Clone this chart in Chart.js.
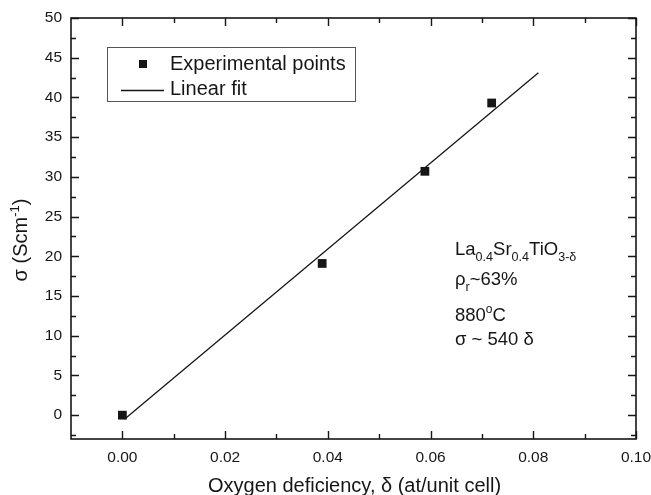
<!DOCTYPE html>
<html>
<head>
<meta charset="utf-8">
<script src="https://cdn.jsdelivr.net/npm/chart.js@4.4.1/dist/chart.umd.min.js"></script>
<style>
  html, body { margin: 0; padding: 0; background: #fff; }
  #wrap { width: 651px; height: 495px; }
</style>
</head>
<body>
<div id="wrap"><canvas id="chart" width="651" height="495"></canvas></div>
<script>
// measured points (delta, sigma)
const deltaPts = [0.000, 0.0389, 0.0589, 0.0719];
const sigmaPts = [0.0, 19.1, 30.7, 39.3];
// linear fit end points
const fitDelta = [0.0004, 0.0810];
const fitSigma = [-0.5, 43.1];

const xTicks = [0.00, 0.02, 0.04, 0.06, 0.08, 0.10];
const xMinor = [0.01, 0.03, 0.05, 0.07, 0.09];
const yTicks = [0, 5, 10, 15, 20, 25, 30, 35, 40, 45, 50];
const yMinor = [-2.5, 2.5, 7.5, 12.5, 17.5, 22.5, 27.5, 32.5, 37.5, 42.5, 47.5];

const FONT = '"Liberation Sans", Arial, sans-serif';
const INK = '#161616';

// draws text made of pieces, some sub/superscript
const richText = (ctx, x, y, parts, size) => {
    parts.forEach(p => {
        let s = size, dy = 0;
        if (p.sub) { s = size * 0.68; dy = size * 0.3; }
        if (p.sup) { s = size * 0.65; dy = -size * 0.42; }
        ctx.font = `${s}px ${FONT}`;
        ctx.fillText(p.t, x, y + dy);
        x += ctx.measureText(p.t).width;
    });
    return x;
};

const framePlugin = {
    id: 'frame',
    afterDraw(chart) {
        const ctx = chart.ctx;
        const a = chart.chartArea;
        const xs = chart.scales.x, ys = chart.scales.y;
        ctx.save();
        ctx.strokeStyle = INK;
        ctx.fillStyle = INK;

        // box
        ctx.lineWidth = 1.6;
        ctx.strokeRect(a.left, a.top, a.right - a.left, a.bottom - a.top);

        // ticks, pointing inward, mirrored on top and right
        ctx.lineWidth = 1.4;
        ctx.beginPath();
        const xt = (v, len) => {
            const px = Math.round(xs.getPixelForValue(v)) + 0.5;
            ctx.moveTo(px, a.bottom); ctx.lineTo(px, a.bottom - len);
            ctx.moveTo(px, a.top); ctx.lineTo(px, a.top + len);
        };
        const yt = (v, len) => {
            const py = Math.round(ys.getPixelForValue(v)) + 0.5;
            ctx.moveTo(a.left, py); ctx.lineTo(a.left + len, py);
            ctx.moveTo(a.right, py); ctx.lineTo(a.right - len, py);
        };
        xTicks.forEach(v => xt(v, 8));
        xMinor.forEach(v => xt(v, 5));
        yTicks.forEach(v => yt(v, 8));
        yMinor.forEach(v => yt(v, 5));
        ctx.stroke();

        // axis titles
        ctx.textBaseline = 'alphabetic';
        ctx.textAlign = 'center';
        ctx.font = `20px ${FONT}`;
        ctx.fillText('Oxygen deficiency, \u03b4 (at/unit cell)', (a.left + a.right) / 2 + 1, 492);

        ctx.save();
        ctx.translate(27, 240);
        ctx.rotate(-Math.PI / 2);
        ctx.textAlign = 'left';
        const yParts = [{ t: '\u03c3 (Scm' }, { t: '-1', sup: true }, { t: ')' }];
        let w = 0;
        yParts.forEach(p => {
            ctx.font = `${p.sup ? 20 * 0.65 : 20}px ${FONT}`;
            w += ctx.measureText(p.t).width;
        });
        richText(ctx, -w / 2, 0, yParts, 20);
        ctx.restore();

        // legend box, built from the datasets
        ctx.textAlign = 'left';
        ctx.lineWidth = 1;
        ctx.strokeStyle = '#555';
        ctx.strokeRect(107.5, 47.5, 248, 54);
        const rows = [64, 90];
        chart.data.datasets.forEach((ds, i) => {
            const ry = rows[i];
            ctx.fillStyle = INK;
            ctx.strokeStyle = INK;
            if (ds.showLine) {
                ctx.lineWidth = 1.4;
                ctx.beginPath();
                ctx.moveTo(121, ry + 0.5);
                ctx.lineTo(164, ry + 0.5);
                ctx.stroke();
            } else {
                ctx.fillRect(139, ry - 4, 8, 8);
            }
            ctx.font = `20px ${FONT}`;
            ctx.fillText(ds.label, 170, ry + (i === 0 ? 6 : 5));
        });

        // annotation
        ctx.fillStyle = INK;
        const ax = 455;
        richText(ctx, ax, 255, [{ t: 'La' }, { t: '0.4', sub: true }, { t: 'Sr' }, { t: '0.4', sub: true }, { t: 'TiO' }, { t: '3-\u03b4', sub: true }], 18.5);
        richText(ctx, ax, 285, [{ t: '\u03c1' }, { t: 'r', sub: true }, { t: '~63%' }], 18.5);
        richText(ctx, ax, 321, [{ t: '880' }, { t: 'o', sup: true }, { t: 'C' }], 18.5);
        richText(ctx, ax, 345, [{ t: '\u03c3 ~ 540 \u03b4' }], 18.5);

        ctx.restore();
    }
};

const ctx = document.getElementById('chart').getContext('2d');
new Chart(ctx, {
    type: 'scatter',
    data: {
        datasets: [
            {
                label: 'Experimental points',
                data: deltaPts.map((d, i) => ({ x: d, y: sigmaPts[i] })),
                pointStyle: 'rect',
                pointRadius: 6.2,
                backgroundColor: INK,
                borderColor: INK,
                borderWidth: 0,
                showLine: false,
                order: 0
            },
            {
                label: 'Linear fit',
                data: fitDelta.map((d, i) => ({ x: d, y: fitSigma[i] })),
                showLine: true,
                pointRadius: 0,
                borderColor: INK,
                borderWidth: 1.3,
                order: 1
            }
        ]
    },
    options: {
        responsive: false,
        animation: false,
        layout: { padding: { top: 18, right: 15, left: 0, bottom: 0 } },
        plugins: { legend: { display: false }, tooltip: { enabled: false } },
        scales: {
            x: {
                type: 'linear', min: -0.01, max: 0.10,
                grid: { display: false, drawTicks: false }, border: { display: false },
                afterBuildTicks: s => { s.ticks = xTicks.map(v => ({ value: v })); },
                afterFit: s => { s.height = 56; s.paddingLeft = 0; s.paddingRight = 0; },
                ticks: {
                    padding: 9, autoSkip: false, maxRotation: 0, color: INK,
                    font: { family: FONT, size: 15.5 },
                    callback: v => Number(v).toFixed(2)
                }
            },
            y: {
                type: 'linear', min: -3, max: 50,
                grid: { display: false, drawTicks: false }, border: { display: false },
                afterBuildTicks: s => { s.ticks = yTicks.map(v => ({ value: v })); },
                afterFit: s => { s.width = 71; s.paddingTop = 0; s.paddingBottom = 0; },
                ticks: {
                    padding: 9, autoSkip: false, color: INK,
                    font: { family: FONT, size: 15.5 },
                    callback: v => String(v)
                }
            }
        }
    },
    plugins: [framePlugin]
});
</script>
</body>
</html>
